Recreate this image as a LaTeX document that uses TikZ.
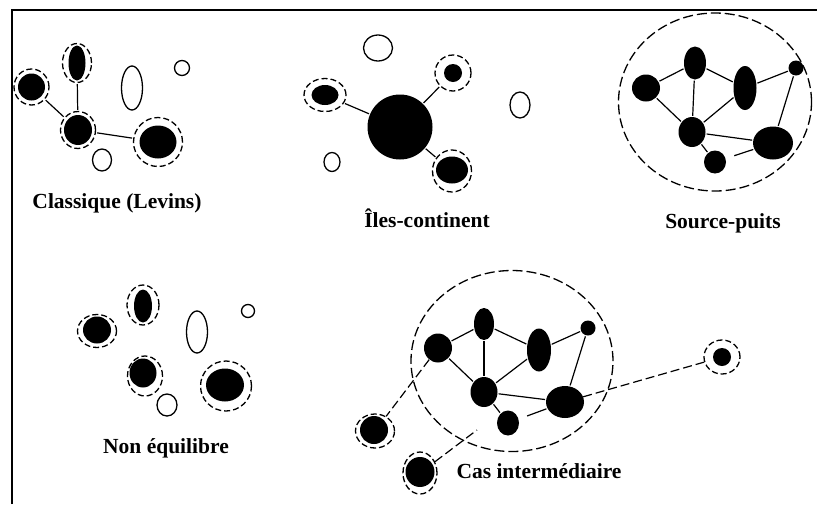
\documentclass[tikz,border=0pt]{standalone}
\usepackage{fontspec}
\setmainfont{Liberation Serif}
\usetikzlibrary{shapes.geometric}
\tikzset{
  ring/.style 2 args={ellipse, draw, dash pattern=on 6pt off 3pt, line width=1.3pt, inner sep=0pt, minimum width=#1pt, minimum height=#2pt},
  blob/.style 2 args={ellipse, fill=black, inner sep=0pt, minimum width=#1pt, minimum height=#2pt},
  hollow/.style 2 args={ellipse, draw, line width=1.3pt, inner sep=0pt, minimum width=#1pt, minimum height=#2pt},
  zone/.style 2 args={ellipse, draw, dash pattern=on 10pt off 4pt, line width=1.3pt, inner sep=0pt, minimum width=#1pt, minimum height=#2pt},
  link/.style={line width=1.2pt, shorten <=1pt, shorten >=1pt},
  farlink/.style={line width=1.2pt, dash pattern=on 9pt off 4pt},
  caption/.style={font=\bfseries\fontsize{21.5}{24}\selectfont, anchor=base, inner sep=0pt},
  frameline/.style={line width=2.6pt}
}
\begin{document}
\begin{tikzpicture}[x=1pt, y=-1pt]
\useasboundingbox (0,0) rectangle (817,504);
% frame
\coordinate (fbl) at (12,504);
\coordinate (ftl) at (12,10);
\coordinate (ftr) at (817,10);
\draw[frameline] (fbl) -- (ftl) -- (ftr);

% ---------- Classique (Levins)
\node[ring={35}{36}] (ca) at (31.5,87) {};
\node[blob={27}{27}] (caf) at (31.5,87) {};
\node[ring={29}{39}] (cb) at (77,63) {};
\node[blob={17}{35}] (cbf) at (77,63) {};
\node[ring={35}{37}] (cc) at (78,130) {};
\node[blob={28}{30}] (ccf) at (78,130) {};
\node[ring={49}{49}] (cd) at (158,142) {};
\node[blob={37}{33}] (cdf) at (158,142) {};
\node[hollow={21}{44}] (ch1) at (132,88) {};
\node[hollow={15}{15}] (ch2) at (182,68) {};
\node[hollow={19}{22}] (ch3) at (102,160) {};
\draw[link] (ca) -- (cc);
\draw[link] (cb) -- (cc);
\draw[link] (cc) -- (cd);
\node[caption] (cl) at (117,208) {Classique (Levins)};

% ---------- Iles-continent
\node[blob={65}{65}] (ic) at (400,127) {};
\node[ring={42}{33}] (i1) at (325,95) {};
\node[blob={27}{20}] (i1f) at (325,95) {};
\node[ring={36}{36}] (i2) at (453,73) {};
\node[blob={18}{18}] (i2f) at (453,73) {};
\node[ring={39}{42}] (i3) at (452,171) {};
\node[blob={32}{27}] (i3f) at (452,170) {};
\node[hollow={29}{26}] (ih1) at (378,48) {};
\node[hollow={20}{26}] (ih2) at (520,105) {};
\node[hollow={16}{19}] (ih3) at (332,162) {};
\draw[link] (i1) -- (ic);
\draw[link] (i2) -- (ic);
\draw[link] (i3) -- (ic);
\node[caption] (il) at (427,227) {Îles-continent};

% ---------- Source-puits
\node[zone={193}{178}] (sp) at (715,102) {};
\node[blob={28}{27}] (s1) at (646,88) {};
\node[blob={22}{33}] (s2) at (695,63) {};
\node[blob={23}{44}] (s3) at (745,88) {};
\node[blob={15}{15}] (s4) at (796,68) {};
\node[blob={27}{30}] (s5) at (692,132) {};
\node[blob={40}{33}] (s6) at (773,143) {};
\node[blob={22}{23}] (s7) at (715,162) {};
\draw[link] (s1) -- (s2);
\draw[link] (s2) -- (s3);
\draw[link] (s3) -- (s4);
\draw[link] (s1) -- (s5);
\draw[link] (s2) -- (s5);
\draw[link] (s3) -- (s5);
\draw[link] (s5) -- (s6);
\draw[link] (s5) -- (s7);
\draw[link] (s6) -- (s4);
\draw[link, shorten <=9pt] (s7) -- (s6);
\node[caption] (sl) at (723,228) {Source-puits};

% ---------- Non equilibre
\node[ring={39}{33}] (na) at (97,331) {};
\node[blob={28}{27}] (naf) at (97,330) {};
\node[ring={32}{40}] (nb) at (143,305) {};
\node[blob={18}{33}] (nbf) at (143,306) {};
\node[hollow={21}{42}] (nh1) at (197,332) {};
\node[hollow={13}{13}] (nh2) at (248,311) {};
\node[ring={35}{40}] (nc) at (145,376) {};
\node[blob={27}{29}] (ncf) at (143,373) {};
\node[ring={51}{50}] (nd) at (226,386) {};
\node[blob={38}{33}] (ndf) at (225,385) {};
\node[hollow={20}{22}] (nh3) at (167,405) {};
\node[caption] (nl) at (166,453) {Non équilibre};

% ---------- Cas intermediaire
\node[zone={202}{181}] (ci) at (512,361) {};
\node[blob={28}{29}] (m1) at (438,348) {};
\node[blob={20}{32}] (m2) at (484,324) {};
\node[blob={24}{43}] (m3) at (539,350) {};
\node[blob={15}{15}] (m4) at (588,328) {};
\node[blob={27}{30}] (m5) at (484,392) {};
\node[blob={38}{32}] (m6) at (565,402) {};
\node[blob={22}{25}] (m7) at (508,423) {};
\node[ring={36}{34}] (o1) at (722,357) {};
\node[blob={18}{18}] (o1f) at (722,357) {};
\node[ring={39}{34}] (o2) at (375,431) {};
\node[blob={28}{28}] (o2f) at (374,430) {};
\node[ring={34}{42}] (o3) at (420,473) {};
\node[blob={29}{30}] (o3f) at (420,472) {};
\coordinate (o3end) at (477,430);
\draw[link] (m1) -- (m2);
\draw[link] (m2) -- (m3);
\draw[link] (m3) -- (m4);
\draw[link] (m1) -- (m5);
\draw[link] (m2) -- (m5);
\draw[link] (m3) -- (m5);
\draw[link] (m5) -- (m6);
\draw[link] (m5) -- (m7);
\draw[link] (m4) -- (m6);
\draw[link, shorten <=9pt] (m7) -- (m6);
\draw[farlink] (m6) -- (o1);
\draw[farlink] (m1) -- (o2);
\draw[farlink] (o3) -- (o3end);
\node[caption] (ml) at (539,478) {Cas intermédiaire};
\end{tikzpicture}
\end{document}
